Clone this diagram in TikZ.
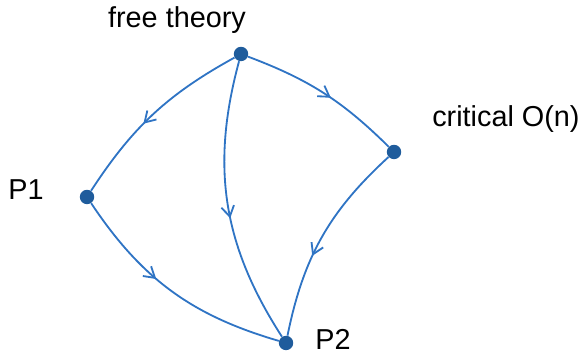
\documentclass[tikz,border=0pt]{standalone}
\usepackage{fontspec}
\setmainfont{Liberation Sans}
\usetikzlibrary{arrows.meta,decorations.markings}
\definecolor{flowblue}{HTML}{2F74C4}
\definecolor{dotblue}{HTML}{1F5C9C}

\begin{document}
\begin{tikzpicture}[x=0.025cm,y=0.025cm,
      fp/.style={circle,fill=dotblue,minimum size=0.36cm,inner sep=0pt},
      lbl/.style={font=\fontsize{20.5}{22}\selectfont,inner sep=0pt},
      flow/.style={flowblue,line width=1.3pt,postaction={decorate},
        decoration={markings,mark=at position #1 with {\arrow{Straight Barb[length=2.6mm,width=3.2mm,line width=1.3pt]}}}}]
    \useasboundingbox (0,0) rectangle (583,359);
    % fixed points
    \node[fp] (free) at (241,305) {};
    \node[fp] (crit) at (394,207) {};
    \node[fp] (p1) at (87,162) {};
    \node[fp] (p2) at (286,16) {};
    % labels
    \node[lbl,anchor=base] (lfree) at (177,331) {free theory};
    \node[lbl,anchor=base west] (lcrit) at (432,232) {critical O(n)};
    \node[lbl,anchor=base west] (lp1) at (8,159) {P1};
    \node[lbl,anchor=base west] (lp2) at (315,9) {P2};
    % flows
    \draw[flow=0.57] (free) to[bend right=14] (p1);
    \draw[flow=0.55] (free) to[bend left=12] (crit);
    \draw[flow=0.55] (free) to[bend right=24] (p2);
    \draw[flow=0.42] (p1) to[bend right=20] (p2);
    \draw[flow=0.6] (crit) to[bend right=18] (p2);
  \end{tikzpicture}
\end{document}
